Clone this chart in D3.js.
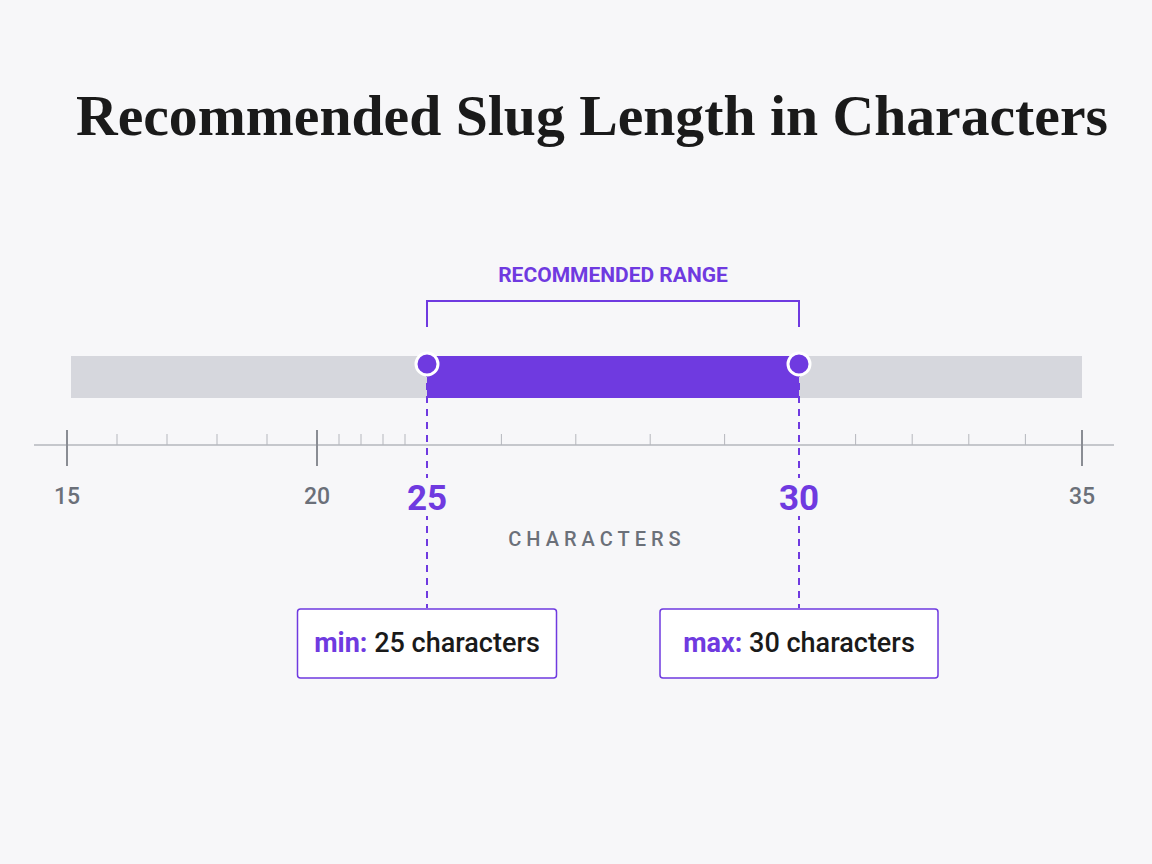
<!DOCTYPE html>
<html><head><meta charset="utf-8">
<script src="https://cdn.jsdelivr.net/npm/d3@7"></script>
<style>body{margin:0;background:#f7f7f9}</style></head>
<body><svg id="c" width="1152" height="864"></svg>
<script>
// data
const majorTicks = [15, 20, 35];
const rangeBounds = [25, 30];
const minorTicks = [16, 17, 18, 19, 21, 22, 23, 24, 26, 27, 28, 29, 31, 32, 33, 34];
const callouts = [{key: "min:", text: " 25 characters", v: 25, w: 259}, {key: "max:", text: " 30 characters", v: 30, w: 278}];

const purple = "#6f3ae0", grey = "#6b7079";
const svg = d3.select("#c");

// the picture's axis is not evenly spaced, so piecewise scale
const x = d3.scaleLinear().domain([15, 20, 25, 30, 35]).range([67, 317, 427, 799, 1082]);

svg.append("text").attr("x", 76).attr("y", 135)
  .attr("font-family", "Liberation Serif, DejaVu Serif, serif").attr("font-weight", "bold")
  .attr("font-size", 56).attr("textLength", 1032).attr("lengthAdjust", "spacingAndGlyphs")
  .attr("fill", "#1a1a1a").text("Recommended Slug Length in Characters");

// track
svg.append("rect").attr("x", x(15) + 4).attr("y", 356).attr("width", x(35) - x(15) - 4).attr("height", 42).attr("fill", "#d6d7dd");
svg.append("rect").attr("x", x(25)).attr("y", 356).attr("width", x(30) - x(25)).attr("height", 42).attr("fill", purple);

// bracket
svg.append("path").attr("d", `M${x(25)},327V301H${x(30)}V327`).attr("fill", "none").attr("stroke", purple).attr("stroke-width", 2);
svg.append("text").attr("x", (x(25) + x(30)) / 2).attr("y", 282).attr("text-anchor", "middle")
  .attr("font-family", "Roboto, sans-serif").attr("font-weight", "bold").attr("font-size", 21).attr("fill", purple).text("RECOMMENDED RANGE");

// axis line
svg.append("line").attr("x1", 34).attr("x2", 1114).attr("y1", 445).attr("y2", 445).attr("stroke", "#b5b7bd").attr("stroke-width", 1.5);
svg.selectAll(".minor").data(minorTicks).join("line")
  .attr("x1", d => x(d)).attr("x2", d => x(d)).attr("y1", 434).attr("y2", 445).attr("stroke", "#b5b7bd");
svg.selectAll(".major").data(majorTicks).join("line")
  .attr("x1", d => x(d)).attr("x2", d => x(d)).attr("y1", 430).attr("y2", 466).attr("stroke", "#8a8d94").attr("stroke-width", 2);
svg.selectAll(".majorLbl").data(majorTicks).join("text")
  .attr("x", d => x(d)).attr("y", 504).attr("text-anchor", "middle")
  .attr("font-family", "Roboto, sans-serif").attr("font-weight", 500).attr("font-size", 23).attr("fill", grey).text(d => d);

// range bounds: dashed lines, dots, labels
svg.selectAll(".dash").data(rangeBounds).join("line")
  .attr("x1", d => x(d)).attr("x2", d => x(d)).attr("y1", 370).attr("y2", 608)
  .attr("stroke", purple).attr("stroke-width", 2).attr("stroke-dasharray", "7,6");
svg.selectAll(".bgap").data(rangeBounds).join("rect")
  .attr("x", d => x(d) - 10).attr("y", 478).attr("width", 20).attr("height", 38).attr("fill", "#f7f7f9");
svg.selectAll(".dot").data(rangeBounds).join("circle")
  .attr("cx", d => x(d)).attr("cy", 364).attr("r", 11).attr("fill", purple).attr("stroke", "#fff").attr("stroke-width", 3);
svg.selectAll(".bLbl").data(rangeBounds).join("text")
  .attr("x", d => x(d)).attr("y", 510).attr("text-anchor", "middle")
  .attr("font-family", "Roboto, sans-serif").attr("font-weight", "bold").attr("font-size", 35).attr("fill", purple).text(d => d);

svg.append("text").attr("x", 597).attr("y", 546).attr("text-anchor", "middle")
  .attr("font-family", "Roboto, sans-serif").attr("font-weight", 500).attr("font-size", 20)
  .attr("letter-spacing", 5).attr("fill", grey).text("CHARACTERS");

// callout boxes
const g = svg.selectAll(".call").data(callouts).join("g");
g.append("rect").attr("x", d => x(d.v) - d.w / 2).attr("y", 609).attr("width", d => d.w).attr("height", 69).attr("rx", 3)
  .attr("fill", "#fff").attr("stroke", purple).attr("stroke-width", 1.5);
const t = g.append("text").attr("x", d => x(d.v)).attr("y", 652).attr("text-anchor", "middle")
  .attr("font-family", "Roboto, sans-serif").attr("font-weight", 500).attr("font-size", 27);
t.append("tspan").attr("fill", purple).attr("font-weight", "bold").text(d => d.key);
t.append("tspan").attr("fill", "#1a1a1a").text(d => d.text);
</script></body></html>
